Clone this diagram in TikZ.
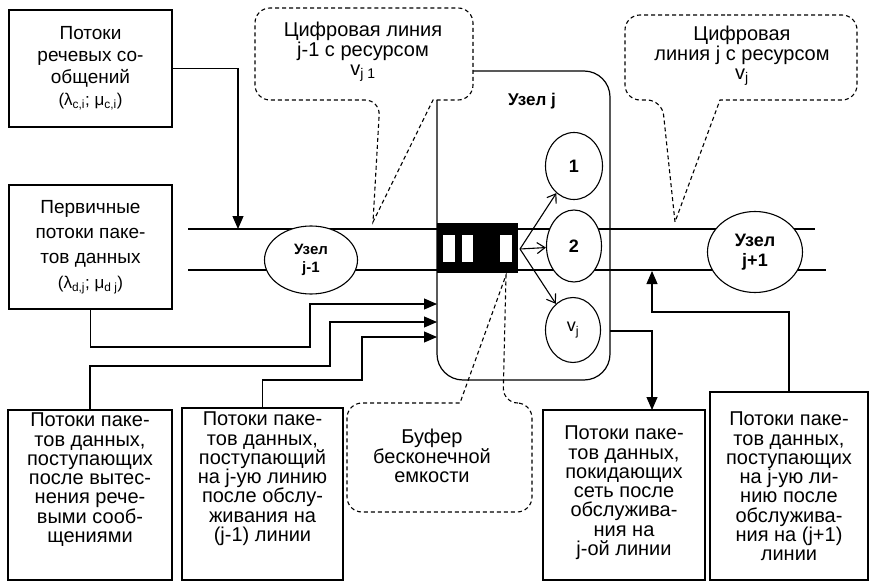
\documentclass[tikz,border=0pt]{standalone}
\usepackage{fontspec}
\setmainfont{Liberation Sans}
\usetikzlibrary{arrows.meta,shapes.geometric}
\newcommand{\bt}[5]{\parbox[c][#1][t]{#2}{\centering\fontsize{20}{#4}\selectfont\vspace*{#3}#5\par}}
\newcommand{\bc}[4]{\parbox[c][#1][c]{#2}{\centering\fontsize{19}{#3}\selectfont #4\par}}
\begin{document}
\begin{tikzpicture}[x=1pt,y=-1pt,line width=1.1pt,
  frame/.style={draw,rectangle,line width=1.6pt,inner sep=0pt},
  ell/.style={draw,ellipse,fill=white,inner sep=0pt,align=center,line width=1.1pt},
  callout/.style={draw,fill=white,dash pattern=on 4pt off 3pt,line width=1.1pt},
  ctext/.style={align=center,font=\fontsize{20}{19.5}\selectfont},
  arr/.style={-{Triangle[length=13pt,width=11pt]}},
  sarr/.style={-{Straight Barb[length=8pt,width=11pt]}},
  slot/.style={fill=white,inner sep=0pt,minimum width=12pt,minimum height=27pt}]
\useasboundingbox (0,0) rectangle (871,586);

% channel lines
\coordinate (L1a) at (188,229); \coordinate (L1b) at (815,229);
\coordinate (L2a) at (188,270); \coordinate (L2b) at (826,270);
\draw (L1a) -- (L1b);
\draw (L2a) -- (L2b);

% buffer callout (under node j box)
\draw[callout] (430,403) [rounded corners=15pt] -- (347,403) -- (347,512) -- (532,512) -- (532,403) -- (503,403) [sharp corners] -- (506,275) -- (460,403) -- cycle;
\node[ctext] (cbuf) at (432,456) {Буфер\\бесконечной\\емкости};

% node j
\node[draw,rounded corners=26pt,line width=1.2pt,minimum width=173pt,minimum height=309pt,inner sep=0pt] (nj) at (523.5,225.5) {};
\node[font=\bfseries\fontsize{17}{20}\selectfont] (lj) at (532,101) {Узел j};

% buffer
\node[fill=black,inner sep=0pt,minimum width=81pt,minimum height=50pt] (buf) at (477.5,248) {};
\node[slot] (sl1) at (449,248.5) {};
\node[slot,minimum width=11pt] (sl2) at (467.5,248.5) {};
\node[slot] (sl3) at (506,248.5) {};
\coordinate (bufout) at (520,249);

% servers
\node[ell,minimum width=57pt,minimum height=67pt,font=\bfseries\fontsize{18}{20}\selectfont] (s1) at (574,166) {1};
\node[ell,minimum width=55pt,minimum height=72pt,font=\bfseries\fontsize{18}{20}\selectfont] (s2) at (574,246) {2};
\node[ell,minimum width=55pt,minimum height=65pt,font=\fontsize{18}{20}\selectfont] (s3) at (573,330) {v\textsubscript{j}};
\draw[sarr] (bufout) -- (s1);
\draw[sarr] (bufout) -- (s2);
\draw[sarr] (bufout) -- (s3);

% neighbour nodes
\node[ell,minimum width=93pt,minimum height=68pt,font=\bfseries\fontsize{15}{18}\selectfont] (n1) at (311,260) {Узел\\j-1};
\node[ell,minimum width=95pt,minimum height=81pt,font=\bfseries\fontsize{18}{20}\selectfont] (n3) at (755,252) {Узел\\j+1};

% callouts on top
\draw[callout] (364,8) [rounded corners=15pt] -- (255,8) -- (255,100) -- (380,100) [sharp corners] -- (373,222) -- (433,100) [rounded corners=15pt] -- (473,100) -- (473,8) -- cycle;
\node[ctext] (c1) at (363,52) {Цифровая линия\\j-1 с ресурсом\\v\textsubscript{j 1}};
\draw[callout] (740,15) [rounded corners=15pt] -- (625,15) -- (625,100) -- (662,100) [sharp corners] -- (675,222) -- (720,100) [rounded corners=15pt] -- (857,100) -- (857,15) -- cycle;
\node[ctext] (c2) at (742,56) {Цифровая\\линия j с ресурсом\\v\textsubscript{j}};

% boxes
\node[frame] (b1) at (90.5,68.5) {\bc{117pt}{163pt}{22}{Потоки\\речевых со-\\общений\\{\fontsize{17}{20}\selectfont(λ\textsubscript{c,i}; μ\textsubscript{c,i})}}};
\node[frame] (b2) at (90.5,247) {\bc{124pt}{163pt}{25}{Первичные\\потоки паке-\\тов данных\\{\fontsize{17}{20}\selectfont(λ\textsubscript{d,j}; μ\textsubscript{d j})}}};
\node[frame] (b3) at (90,495) {\bt{170pt}{164pt}{3pt}{19.3}{Потоки паке-\\тов данных,\\поступающих\\после вытес-\\нения рече-\\выми сооб-\\щениями}};
\node[frame] (b4) at (262.5,494) {\bt{172pt}{161pt}{4pt}{19.3}{Потоки паке-\\тов данных,\\поступающий\\на j-ую линию\\после обслу-\\живания на\\(j-1) линии}};
\node[frame] (b5) at (624,495) {\bt{170pt}{162pt}{16pt}{19.3}{Потоки паке-\\тов данных,\\покидающих\\сеть после\\обслужива-\\ния на\\j-ой линии}};
\node[frame] (b6) at (789,486) {\bt{188pt}{158pt}{20pt}{19.3}{Потоки паке-\\тов данных,\\поступающих\\на j-ую ли-\\нию после\\обслужива-\\ния на (j+1)\\линии}};

% connectors
\coordinate (t1) at (238,229);
\draw[arr] (b1.east) -| (t1);
\coordinate (in1) at (437,304);
\coordinate (in2) at (437,322);
\coordinate (in3) at (437,337);
\draw[arr] (b2.south) |- (310,347) |- (in1);
\draw[arr] (b3.north) |- (330,366) |- (in2);
\draw[arr] (b4.north) |- (362,380) |- (in3);
\coordinate (out5) at (610,331);
\coordinate (t5) at (652,410);
\draw[arr] (out5) -| (t5);
\coordinate (t6) at (652,271);
\draw[arr] (b6.north) |- (652,312) -- (t6);
\end{tikzpicture}
\end{document}
